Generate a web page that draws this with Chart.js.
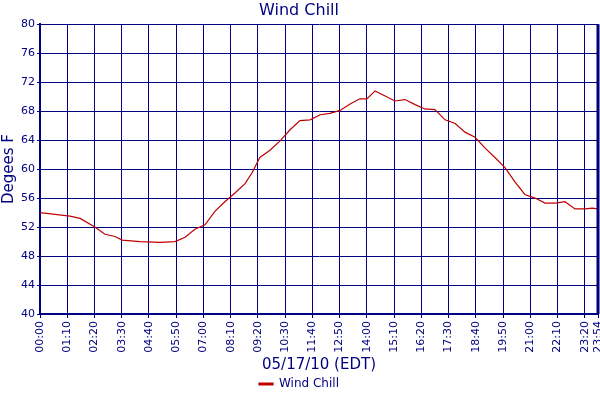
<!DOCTYPE html>
<html><head><meta charset="utf-8">
<script src="https://cdn.jsdelivr.net/npm/chart.js@4/dist/chart.umd.min.js"></script>
<style>html,body{margin:0;padding:0;background:#fff}#w{width:600px;height:400px}</style>
</head><body><div id="w"><canvas id="c"></canvas></div>
<script>
const minutes = [0,77,103,141,167,193,211,257,308,347,373,398,424,450,475,501,527,545,565,591,617,642,668,694,720,745,771,797,822,840,861,887,912,938,964,989,1015,1041,1067,1092,1118,1144,1169,1195,1221,1246,1272,1298,1324,1349,1375,1401,1419,1434];
const windChill = [54.0,53.5,53.2,52.0,51.0,50.7,50.2,50.0,49.9,50.0,50.6,51.7,52.3,54.2,55.5,56.7,58.0,59.5,61.6,62.6,63.9,65.4,66.7,66.8,67.5,67.7,68.1,69.0,69.7,69.7,70.8,70.1,69.4,69.6,68.9,68.3,68.2,66.8,66.3,65.1,64.4,62.9,61.6,60.2,58.2,56.5,56.0,55.3,55.3,55.5,54.5,54.5,54.6,54.5];
const xTicks = [0,70,140,210,280,350,420,490,560,630,700,770,840,910,980,1050,1120,1190,1260,1330,1400,1434];
const yTicks = [40,44,48,52,56,60,64,68,72,76,80];
const navy = '#000080';
const fmt = m => String(Math.floor(m/60)).padStart(2,'0')+':'+String(m%60).padStart(2,'0');
const font = {family:'DejaVu Sans', size:11};
new Chart(document.getElementById('c'), {
  type:'line',
  data:{datasets:[{label:'Wind Chill', data:minutes.map((m,i)=>({x:m,y:windChill[i]})),
    borderColor:'#c00000', backgroundColor:'#c00000', borderWidth:1.2, pointRadius:0, tension:0}]},
  options:{animation:false, responsive:true, maintainAspectRatio:false,
    layout:{padding:{top:0,right:2,left:0,bottom:0}},
    plugins:{
      title:{display:true,text:'Wind Chill',color:navy,font:{family:'DejaVu Sans',size:16,weight:'normal'},padding:{top:1,bottom:4}},
      legend:{position:'bottom',labels:{color:navy,font:{family:'DejaVu Sans',size:12},boxWidth:14,boxHeight:2,padding:4}}
    },
    scales:{
      x:{type:'linear',min:0,max:1434,
        afterBuildTicks:s=>{s.ticks=xTicks.map(v=>({value:v}));},
        afterFit:s=>{s.paddingRight=0;s.height=60;},
        ticks:{color:navy,font,maxRotation:90,minRotation:90,autoSkip:false,callback:v=>fmt(v)},
        grid:{color:navy,lineWidth:1,drawTicks:true,tickLength:4},
        border:{color:navy,width:2},
        title:{display:true,text:'05/17/10 (EDT)',color:navy,font:{family:'DejaVu Sans',size:15},padding:{top:2,bottom:0}}},
      y:{min:40,max:80,
        afterBuildTicks:s=>{s.ticks=yTicks.map(v=>({value:v}));},
        afterFit:s=>{s.width=40;},
        ticks:{color:navy,font,padding:2},
        grid:{color:navy,lineWidth:1,tickLength:3},
        border:{color:navy,width:2},
        title:{display:true,text:'Degees F',color:navy,font:{family:'DejaVu Sans',size:15},padding:{top:0,bottom:0}}}
    }
  },
  plugins:[{id:'rb',afterDraw(c){const a=c.chartArea,x=c.ctx;x.save();x.strokeStyle=navy;x.lineWidth=3;x.beginPath();x.moveTo(a.right,a.top);x.lineTo(a.right,a.bottom);x.stroke();x.restore();}}]
});
</script></body></html>
